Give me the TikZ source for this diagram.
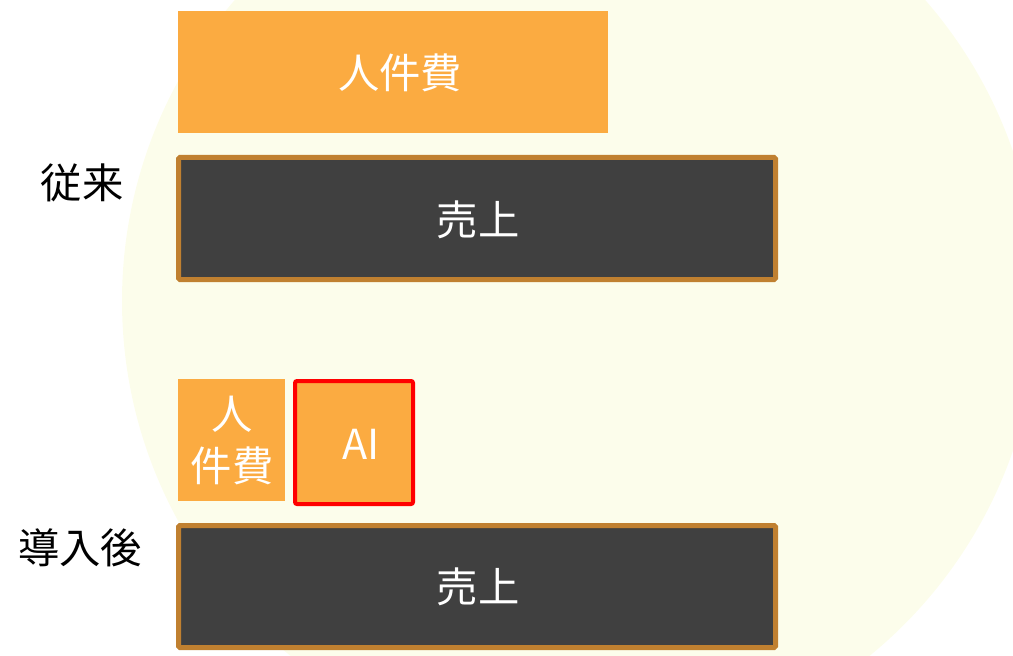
\documentclass[tikz,border=0pt]{standalone}
\usepackage{fontspec}
\newfontfamily\jp{Noto Sans CJK JP}
\definecolor{bgc}{RGB}{252,253,235}
\definecolor{org}{RGB}{251,171,65}
\definecolor{dk}{RGB}{64,64,64}
\definecolor{brn}{RGB}{192,128,48}
\begin{document}
\begin{tikzpicture}[x=0.75pt,y=-0.75pt,
  jpf/.style={font=\jp\fontsize{31}{39}\selectfont},
  cost/.style={fill=org,draw=none},
  wt/.style={jpf,text=white,inner sep=0pt},
  sales/.style={fill=dk,draw=brn,line width=3.75pt,rounded corners=1pt},
  lbl/.style={jpf,text=black,inner sep=0pt}]
\useasboundingbox (0,0) rectangle (1013,656);
\begin{scope}
\clip (0,0) rectangle (1013,656);
\fill[bgc] (580,301) circle[radius=458];
\end{scope}
% top
\path[cost] (178,11) rectangle (608,133);
\node[wt] (c1) at (400,73) {人件費};
\draw[sales] (178.5,157.5) rectangle (775.5,279.5);
\node[wt] (s1) at (478,220) {売上};
\node[lbl] (l1) at (82,183) {従来};
% bottom
\path[cost] (178,379) rectangle (285,501);
\node[wt,align=center] (c2) at (232,440) {人\\件費};
\draw[fill=org,draw=red,line width=3pt,rounded corners=1.5pt] (295,381) rectangle (413,504);
\node[wt] (ai) at (361,444) {AI};
\draw[sales] (178.5,525.5) rectangle (775.5,647.5);
\node[wt] (s2) at (478,587) {売上};
\node[lbl] (l2) at (80,548) {導入後};
\end{tikzpicture}
\end{document}
